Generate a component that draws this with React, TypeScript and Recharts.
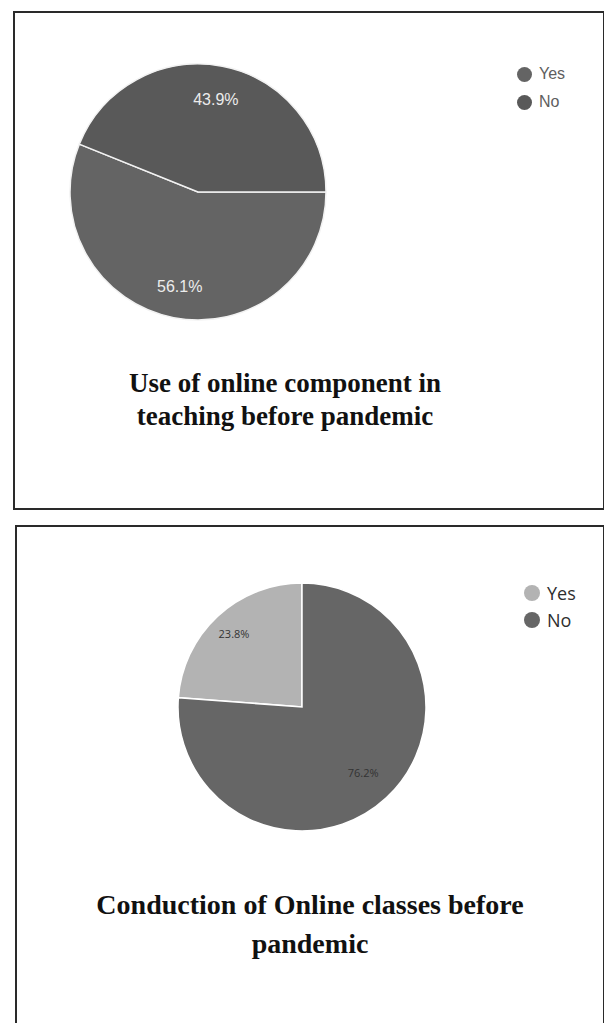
import React from "react";
import { PieChart, Pie, Cell, Legend } from "recharts";

// survey answers, in percent
const answers = ["Yes", "No"];
const onlineComponentShares = [56.1, 43.9];
const onlineClassShares = [23.8, 76.2];

const onlineComponentColors = ["#646464", "#595959"];
const onlineClassColors = ["#b3b3b3", "#666666"];

const onlineComponentData = answers.map((name, i) => ({
  name,
  value: onlineComponentShares[i],
}));
const onlineClassData = answers.map((name, i) => ({
  name,
  value: onlineClassShares[i],
}));

const RADIAN = Math.PI / 180;
const noMargin = { top: 0, right: 0, bottom: 0, left: 0 };

function makeLabel(
  radius: number[],
  fill: string,
  fontSize: number,
  fontFamily: string
) {
  return (props: any) => {
    const { cx, cy, midAngle, index, value } = props;
    const r = radius[index];
    const x = cx + r * Math.cos(-midAngle * RADIAN);
    const y = cy + r * Math.sin(-midAngle * RADIAN);
    return (
      <text
        x={x}
        y={y}
        fill={fill}
        fontSize={fontSize}
        fontFamily={fontFamily}
        textAnchor="middle"
        dominantBaseline="central"
      >
        {`${value.toFixed(1)}%`}
      </text>
    );
  };
}

function makeLegend(
  gap: number,
  dot: number,
  fontSize: number,
  fontFamily: string,
  textColor: string
) {
  return (props: any) => {
    // keep the answers in survey order, not alphabetical
    const items = [...(props.payload || [])].sort(
      (a: any, b: any) => answers.indexOf(a.value) - answers.indexOf(b.value)
    );
    return (
      <div>
        {items.map((entry: any) => (
          <div
            key={entry.value}
            style={{
              display: "flex",
              alignItems: "center",
              height: gap,
              fontSize,
              fontFamily,
              color: textColor,
            }}
          >
            <span
              style={{
                width: dot,
                height: dot,
                borderRadius: "50%",
                background: entry.color,
                marginRight: 7,
                display: "inline-block",
              }}
            />
            {entry.value}
          </div>
        ))}
      </div>
    );
  };
}

const titleStyle: React.CSSProperties = {
  position: "absolute",
  fontFamily: "'Liberation Serif', 'Times New Roman', serif",
  fontWeight: "bold",
  fontSize: 27,
  lineHeight: "33px",
  color: "#111",
  textAlign: "center",
};

export default function App() {
  return (
    <div
      style={{
        position: "absolute",
        left: 0,
        top: 0,
        width: 604,
        height: 1023,
        background: "#fff",
        overflow: "hidden",
      }}
    >
      {/* first panel */}
      <div
        style={{
          position: "absolute",
          left: 13,
          top: 11,
          width: 588,
          height: 495,
          border: "2px solid #2a2a2a",
        }}
      />
      <div style={{ position: "absolute", left: 15, top: 13 }}>
        <PieChart width={586} height={330} margin={noMargin}>
          <Pie
            data={onlineComponentData}
            dataKey="value"
            nameKey="name"
            cx={183}
            cy={179}
            outerRadius={128}
            startAngle={0}
            endAngle={-360}
            stroke="#f2f2f2"
            strokeWidth={1.5}
            labelLine={false}
            label={makeLabel([96, 94], "#ececec", 16, "'Liberation Sans', Arial, sans-serif")}
            isAnimationActive={false}
          >
            {onlineComponentData.map((entry, index) => (
              <Cell key={`cell-${index}`} fill={onlineComponentColors[index]} />
            ))}
          </Pie>
          <Legend
            layout="vertical"
            verticalAlign="top"
            align="right"
            wrapperStyle={{ left: 502, top: 47, width: 80 }}
            content={makeLegend(28, 15, 16, "'Liberation Sans', Arial, sans-serif", "#5e5e5e")}
          />
        </PieChart>
      </div>
      <div style={{ ...titleStyle, left: 85, top: 367, width: 400 }}>
        Use of online component in
        <br />
        teaching before pandemic
      </div>

      {/* second panel */}
      <div
        style={{
          position: "absolute",
          left: 15,
          top: 525,
          width: 586,
          height: 520,
          border: "2px solid #2a2a2a",
        }}
      />
      <div style={{ position: "absolute", left: 17, top: 527 }}>
        <PieChart width={584} height={330} margin={noMargin}>
          <Pie
            data={onlineClassData}
            dataKey="value"
            nameKey="name"
            cx={285}
            cy={180}
            outerRadius={124}
            startAngle={90}
            endAngle={450}
            stroke="#ffffff"
            strokeWidth={1.5}
            labelLine={false}
            label={makeLabel([100, 90], "#333333", 11, "'Open Sans', 'Noto Sans', sans-serif")}
            isAnimationActive={false}
          >
            {onlineClassData.map((entry, index) => (
              <Cell key={`cell-${index}`} fill={onlineClassColors[index]} />
            ))}
          </Pie>
          <Legend
            layout="vertical"
            verticalAlign="top"
            align="right"
            wrapperStyle={{ left: 507, top: 52, width: 80 }}
            content={makeLegend(27, 16, 18, "'Open Sans', 'Noto Sans', sans-serif", "#2e2e2e")}
          />
        </PieChart>
      </div>
      <div style={{ ...titleStyle, fontSize: 28, left: 60, top: 885, width: 500, lineHeight: "39px" }}>
        Conduction of Online classes before
        <br />
        pandemic
      </div>
    </div>
  );
}
